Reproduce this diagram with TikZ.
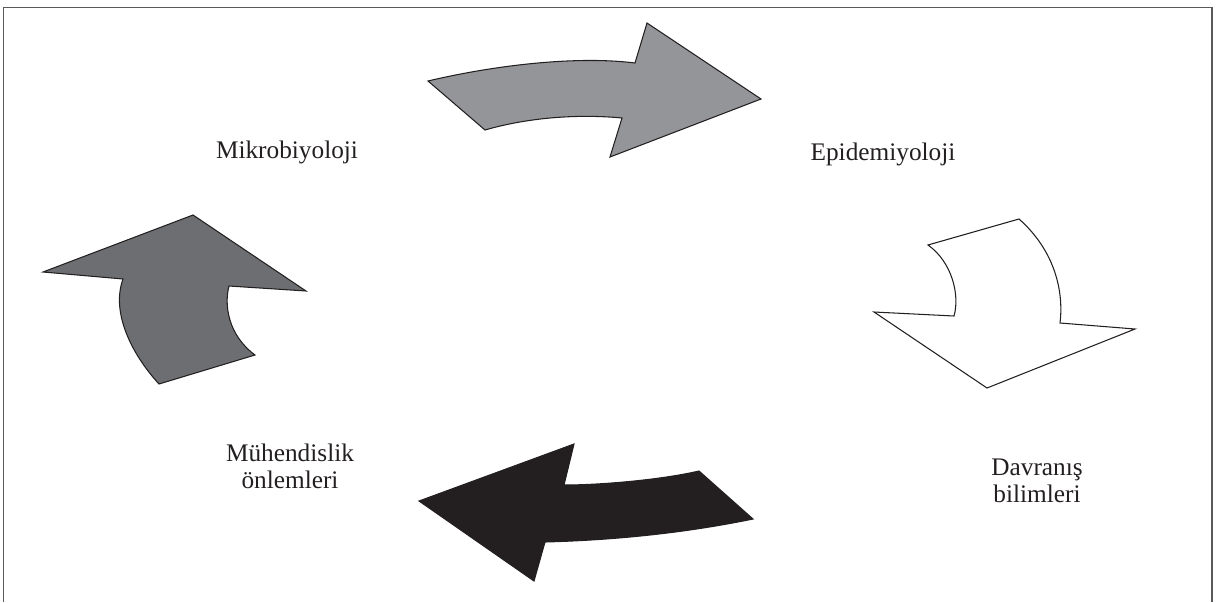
\documentclass[tikz,border=0pt]{standalone}
\usepackage{fontspec}
\setmainfont{Liberation Serif}
\usepackage{tikz}
\usetikzlibrary{positioning, calc}
\definecolor{midgray}{HTML}{939598}
\definecolor{darkgray}{HTML}{6D6E71}
\definecolor{nearblack}{HTML}{231F20}
\definecolor{framegray}{HTML}{58595B}
\tikzset{
x=0.02cm, y=-0.02cm,
frame/.style={draw=framegray, line width=1.1pt},
bigarrow/.style={%
    draw=nearblack,
    line width=0.6pt,
    line join=miter,
},
field/.style={%
    inner sep=1pt,
    align=center,
    font=\fontsize{14.4}{15.5}\selectfont,
    text=nearblack,
},
}

\begin{document}
\begin{tikzpicture}
	\useasboundingbox (0,0) rectangle (1219,602);
	\draw[frame] (3.5,602) -- (3.5,7.5) -- (1211.7,7.5) -- (1211.7,602);

	\node[field] (mikro) at (287,152) {Mikrobiyoloji};
	\node[field] (epi) at (883,154) {Epidemiyoloji};
	\node[field] (davranis) at (1037,481) {Davranış\\bilimleri};
	\node[field] (muhendis) at (290,466) {Mühendislik\\önlemleri};

	% top arrow
	\filldraw[bigarrow, fill=midgray] (428,81) .. controls (500,64) and (580,56) .. (635,63)
		-- (647,23) -- (761,99) -- (610,157) -- (622,118)
		.. controls (580,114) and (530,117) .. (485,130) -- cycle;
	% right arrow
	\filldraw[bigarrow, fill=white] (928,245) -- (1019,219)
		.. controls (1054,250) and (1064,290) .. (1060,323)
		-- (1135,329) -- (987,388) -- (874,312) -- (954,316)
		.. controls (960,295) and (952,262) .. (928,245) -- cycle;
	% bottom arrow
	\filldraw[bigarrow, fill=nearblack] (699,471) -- (753,519)
		.. controls (690,532) and (620,540) .. (545,542)
		-- (534,581) -- (419,501) -- (574,444) -- (564,485)
		.. controls (600,485) and (660,480) .. (699,471) -- cycle;
	% left arrow
	\filldraw[bigarrow, fill=darkgray] (193,215) -- (306,291) -- (229,286)
		.. controls (224,305) and (228,335) .. (255,355) -- (159,384)
		.. controls (135,358) and (110,315) .. (123,279) -- (43,272) -- cycle;

\end{tikzpicture}
\end{document}
